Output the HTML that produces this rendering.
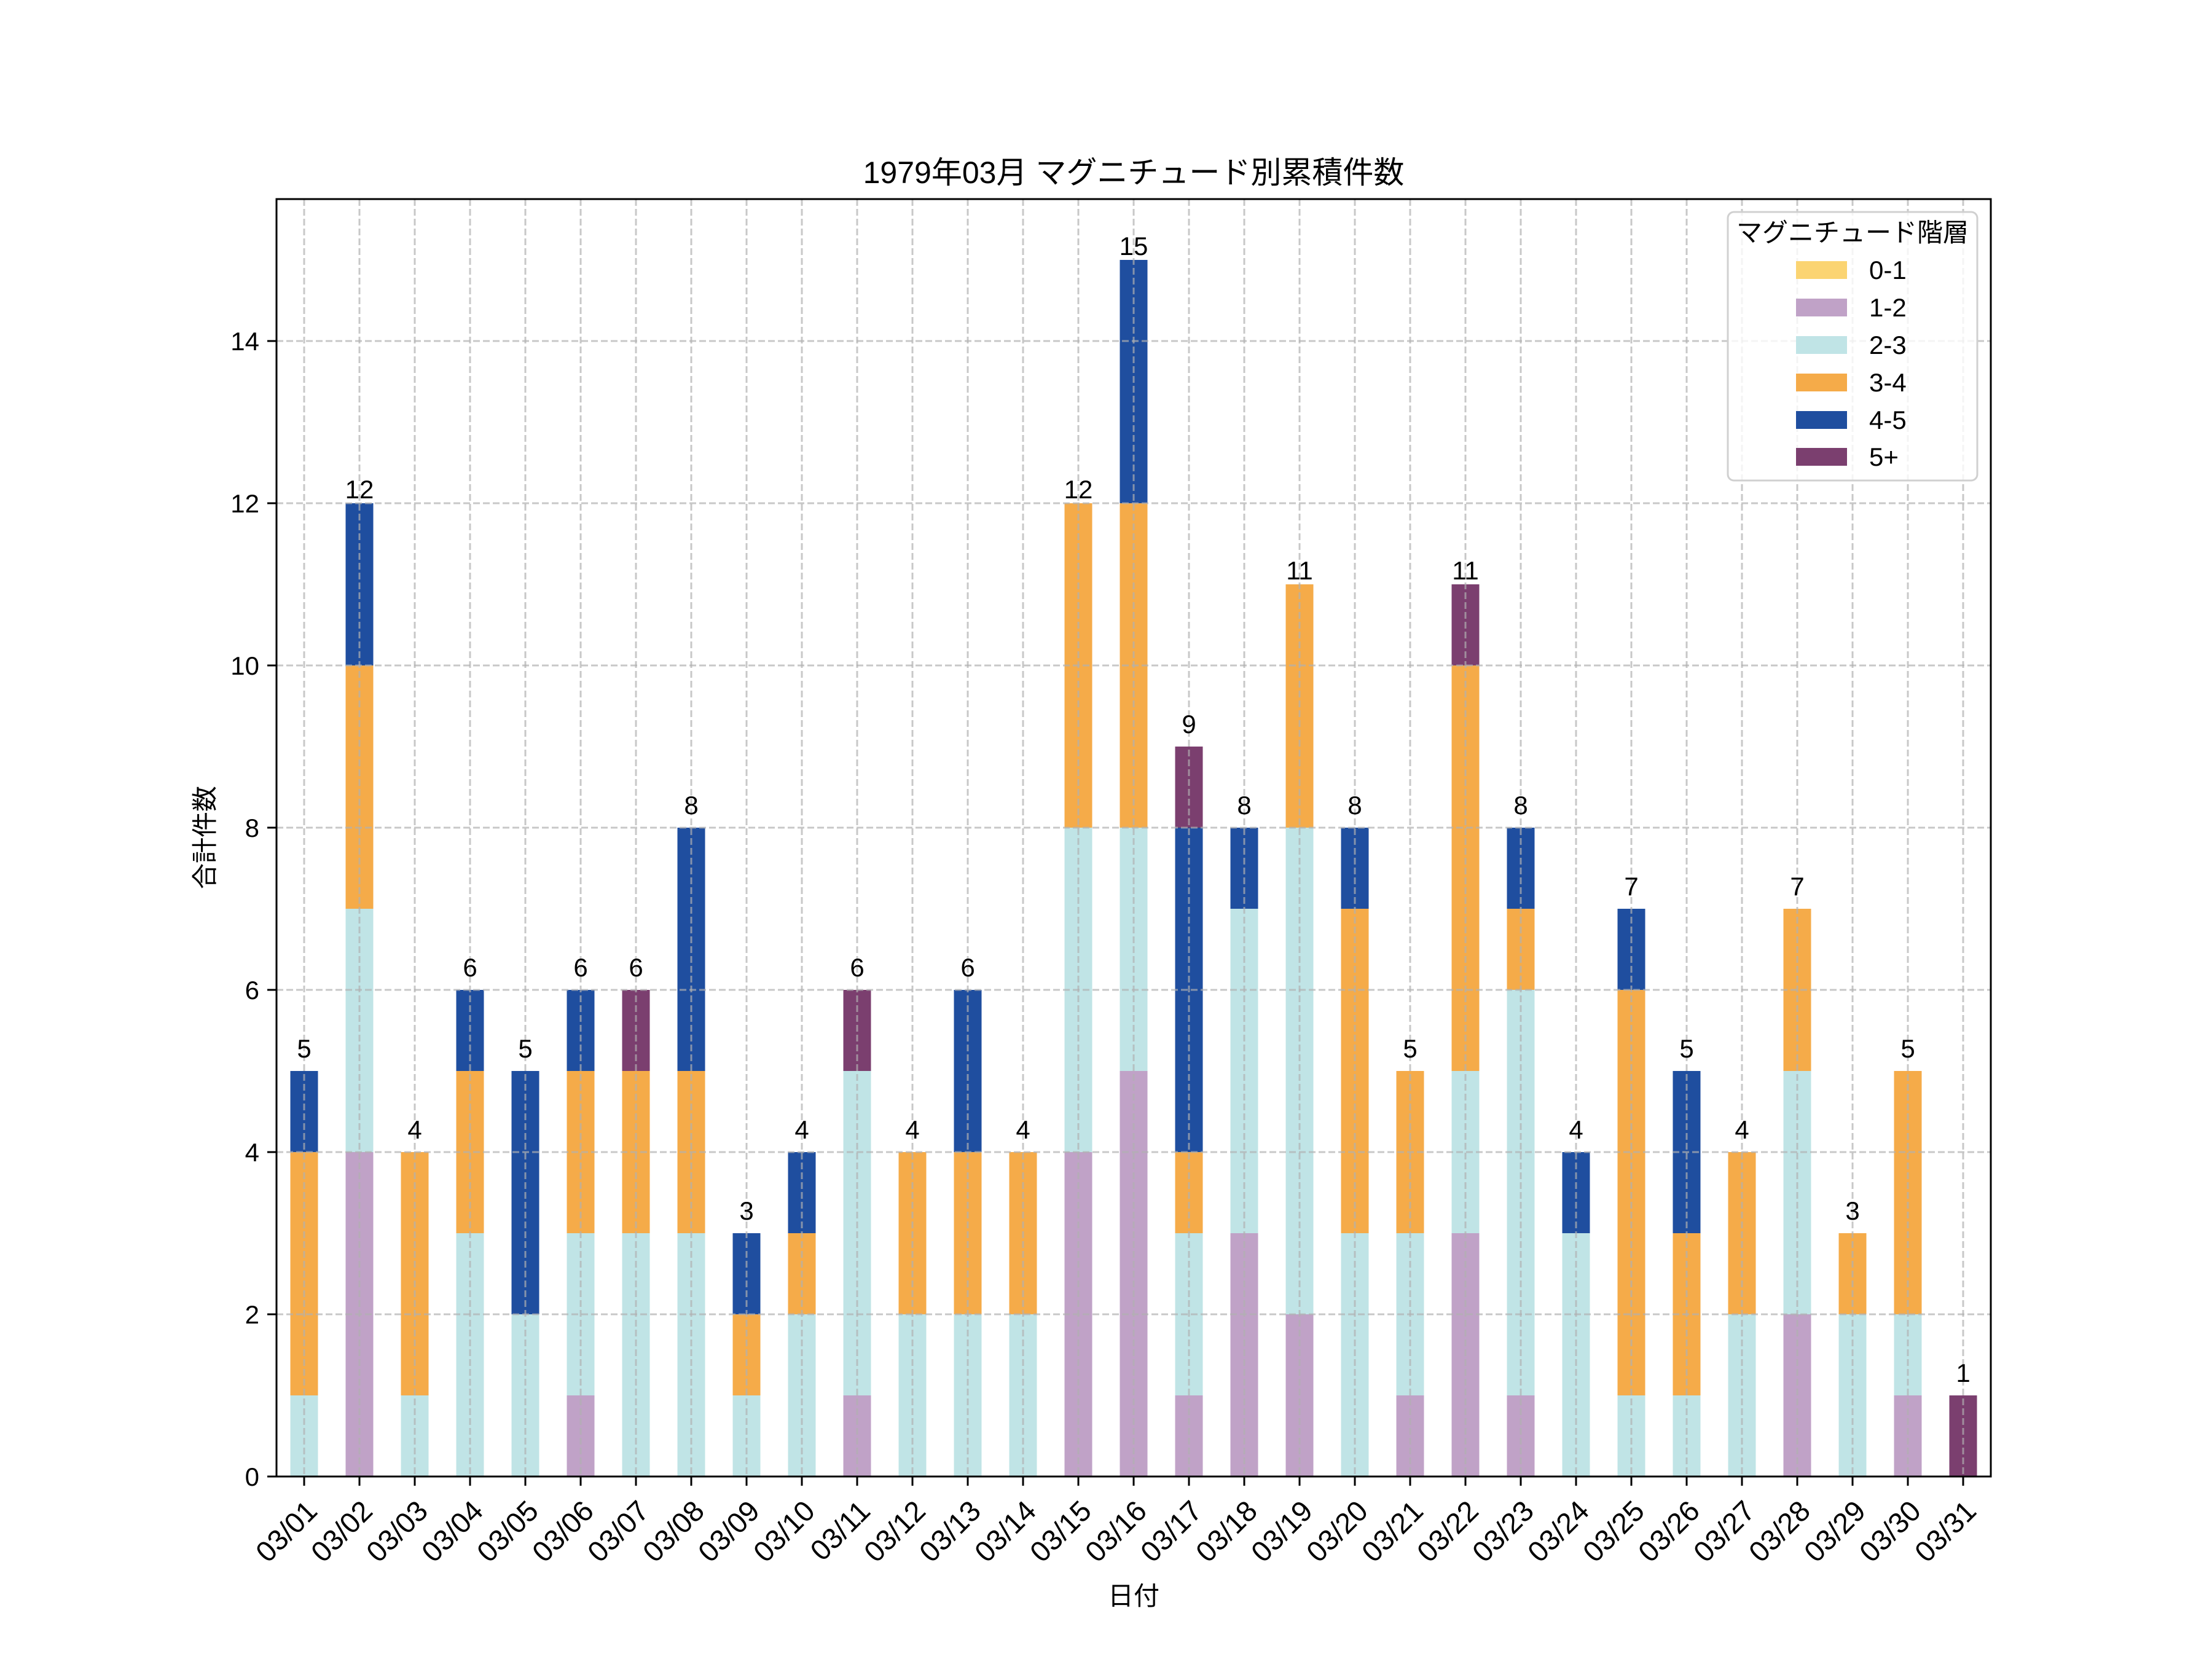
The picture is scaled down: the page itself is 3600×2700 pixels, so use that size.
<!DOCTYPE html>
<html><head><meta charset="utf-8"><style>
html,body{margin:0;padding:0;background:#fff}
svg{display:block}
text{font-family:"Liberation Sans","Noto Sans CJK JP",sans-serif;fill:#000}
</style></head><body>
<svg id="s" width="3600" height="2700" viewBox="0 0 3600 2700" xmlns="http://www.w3.org/2000/svg">
<rect width="3600" height="2700" fill="#fff"/>
<g id="bars"></g>
<g id="grid" stroke="#b0b0b0" stroke-opacity="0.7" stroke-width="3" stroke-dasharray="11,5"></g>
<rect x="450" y="324" width="2790" height="2079" fill="none" stroke="#000" stroke-width="3"/>
<g id="ticks" stroke="#000" stroke-width="3"></g>
<text x="1845" y="298" font-size="50" text-anchor="middle">1979年03月 マグニチュード別累積件数</text>
<text x="1845" y="2612" font-size="42" text-anchor="middle">日付</text>
<text transform="translate(348,1363) rotate(-90)" font-size="42" text-anchor="middle">合計件数</text>
<g font-size="42" text-anchor="end">
<text x="422" y="2418">0</text><text x="422" y="2154">2</text><text x="422" y="1890">4</text><text x="422" y="1626">6</text><text x="422" y="1362">8</text><text x="422" y="1098">10</text><text x="422" y="834">12</text><text x="422" y="570">14</text>
</g>
<g font-size="47" text-anchor="end">
<text transform="translate(495,2438) rotate(-45)" dy="34">03/01</text>
<text transform="translate(585,2438) rotate(-45)" dy="34">03/02</text>
<text transform="translate(675,2438) rotate(-45)" dy="34">03/03</text>
<text transform="translate(765,2438) rotate(-45)" dy="34">03/04</text>
<text transform="translate(855,2438) rotate(-45)" dy="34">03/05</text>
<text transform="translate(945,2438) rotate(-45)" dy="34">03/06</text>
<text transform="translate(1035,2438) rotate(-45)" dy="34">03/07</text>
<text transform="translate(1125,2438) rotate(-45)" dy="34">03/08</text>
<text transform="translate(1215,2438) rotate(-45)" dy="34">03/09</text>
<text transform="translate(1305,2438) rotate(-45)" dy="34">03/10</text>
<text transform="translate(1395,2438) rotate(-45)" dy="34">03/11</text>
<text transform="translate(1485,2438) rotate(-45)" dy="34">03/12</text>
<text transform="translate(1575,2438) rotate(-45)" dy="34">03/13</text>
<text transform="translate(1665,2438) rotate(-45)" dy="34">03/14</text>
<text transform="translate(1755,2438) rotate(-45)" dy="34">03/15</text>
<text transform="translate(1845,2438) rotate(-45)" dy="34">03/16</text>
<text transform="translate(1935,2438) rotate(-45)" dy="34">03/17</text>
<text transform="translate(2025,2438) rotate(-45)" dy="34">03/18</text>
<text transform="translate(2115,2438) rotate(-45)" dy="34">03/19</text>
<text transform="translate(2205,2438) rotate(-45)" dy="34">03/20</text>
<text transform="translate(2295,2438) rotate(-45)" dy="34">03/21</text>
<text transform="translate(2385,2438) rotate(-45)" dy="34">03/22</text>
<text transform="translate(2475,2438) rotate(-45)" dy="34">03/23</text>
<text transform="translate(2565,2438) rotate(-45)" dy="34">03/24</text>
<text transform="translate(2655,2438) rotate(-45)" dy="34">03/25</text>
<text transform="translate(2745,2438) rotate(-45)" dy="34">03/26</text>
<text transform="translate(2835,2438) rotate(-45)" dy="34">03/27</text>
<text transform="translate(2925,2438) rotate(-45)" dy="34">03/28</text>
<text transform="translate(3015,2438) rotate(-45)" dy="34">03/29</text>
<text transform="translate(3105,2438) rotate(-45)" dy="34">03/30</text>
<text transform="translate(3195,2438) rotate(-45)" dy="34">03/31</text>
</g>
<g font-size="42" text-anchor="middle" transform="translate(0,-8)">
<text x="495" y="1729">5</text><text x="585" y="819">12</text><text x="675" y="1861">4</text><text x="765" y="1597">6</text><text x="855" y="1729">5</text><text x="945" y="1597">6</text><text x="1035" y="1597">6</text><text x="1125" y="1333">8</text><text x="1215" y="1993">3</text><text x="1305" y="1861">4</text><text x="1395" y="1597">6</text><text x="1485" y="1861">4</text><text x="1575" y="1597">6</text><text x="1665" y="1861">4</text><text x="1755" y="819">12</text><text x="1845" y="423">15</text><text x="1935" y="1201">9</text><text x="2025" y="1333">8</text><text x="2115" y="951">11</text><text x="2205" y="1333">8</text><text x="2295" y="1729">5</text><text x="2385" y="951">11</text><text x="2475" y="1333">8</text><text x="2565" y="1861">4</text><text x="2655" y="1465">7</text><text x="2745" y="1729">5</text><text x="2835" y="1861">4</text><text x="2925" y="1465">7</text><text x="3015" y="1993">3</text><text x="3105" y="1729">5</text><text x="3195" y="2257">1</text>
</g>
<rect x="2812" y="345" width="406" height="437" rx="10" fill="#fff" fill-opacity="0.8" stroke="#d0d0d0" stroke-width="3"/>
<text x="3015" y="393" font-size="42" text-anchor="middle">マグニチュード階層</text>
<g font-size="42">
<rect x="2923" y="425" width="83" height="29" fill="#fbd472"/><text x="3042" y="454">0-1</text>
<rect x="2923" y="486" width="83" height="29" fill="#c0a2c7"/><text x="3042" y="515">1-2</text>
<rect x="2923" y="547" width="83" height="29" fill="#c0e4e6"/><text x="3042" y="576">2-3</text>
<rect x="2923" y="608" width="83" height="29" fill="#f5ab49"/><text x="3042" y="637">3-4</text>
<rect x="2923" y="669" width="83" height="29" fill="#1f4e9f"/><text x="3042" y="698">4-5</text>
<rect x="2923" y="729" width="83" height="29" fill="#7b3f6f"/><text x="3042" y="758">5+</text>
</g>
</svg>
<script>
var D=[[0,1,3,1,0],[4,3,3,2,0],[0,1,3,0,0],[0,3,2,1,0],[0,2,0,3,0],[1,2,2,1,0],[0,3,2,0,1],[0,3,2,3,0],[0,1,1,1,0],[0,2,1,1,0],[1,4,0,0,1],[0,2,2,0,0],[0,2,2,2,0],[0,2,2,0,0],[4,4,4,0,0],[5,3,4,3,0],[1,2,1,4,1],[3,4,0,1,0],[2,6,3,0,0],[0,3,4,1,0],[1,2,2,0,0],[3,2,5,0,1],[1,5,1,1,0],[0,3,0,1,0],[0,1,5,1,0],[0,1,2,2,0],[0,2,2,0,0],[2,3,2,0,0],[0,2,1,0,0],[1,1,3,0,0],[0,0,0,0,1]];
var C=["#c0a2c7","#c0e4e6","#f5ab49","#1f4e9f","#7b3f6f"];
var ns="http://www.w3.org/2000/svg",b=document.getElementById("bars"),g=document.getElementById("grid"),t=document.getElementById("ticks");
function el(p,n,a){var e=document.createElementNS(ns,n);for(var k in a)e.setAttribute(k,a[k]);p.appendChild(e);}
var U=132;
D.forEach(function(r,i){var x=495+90*i,c=0;r.forEach(function(v,j){if(v>0){el(b,"rect",{x:x-22.5,y:2403-(c+v)*U,width:45,height:v*U,fill:C[j]});}c+=v;});
el(g,"line",{x1:x,x2:x,y1:324,y2:2403});el(t,"line",{x1:x,x2:x,y1:2403,y2:2418});});
for(var k=0;k<=14;k+=2){var y=2403-k*U;el(g,"line",{x1:450,x2:3240,y1:y,y2:y});el(t,"line",{x1:435,x2:450,y1:y,y2:y});}
</script>
</body></html>
